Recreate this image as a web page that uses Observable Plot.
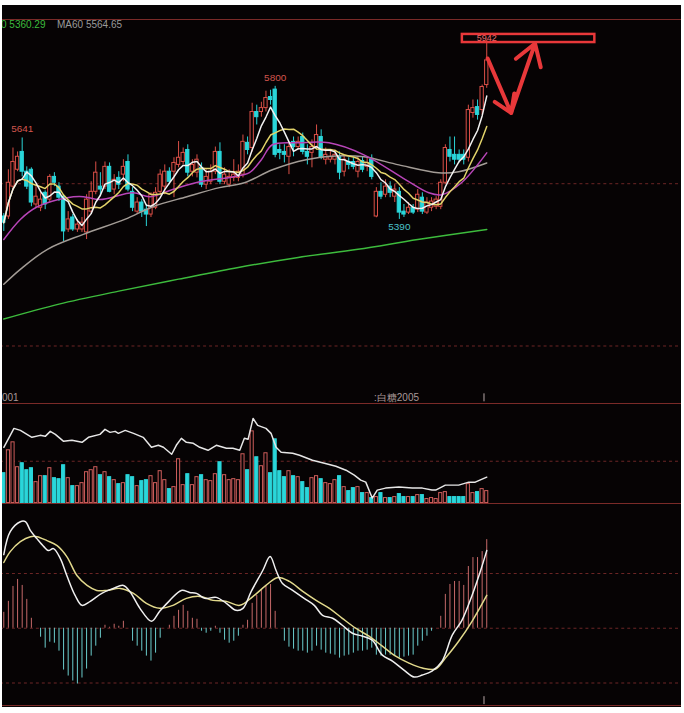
<!DOCTYPE html>
<html><head><meta charset="utf-8">
<script src="https://cdn.jsdelivr.net/npm/d3@7"></script>
<script src="https://cdn.jsdelivr.net/npm/@observablehq/plot@0.6"></script>
<style>
html,body{margin:0;padding:0;background:#ffffff;}
#wrap{position:relative;width:684px;height:713px;overflow:hidden;background:#ffffff;}
#bg{position:absolute;left:2px;top:5px;width:679px;height:702px;background:#060304;overflow:hidden;}
.panel{position:absolute;left:-2px;line-height:0;}
.sep{position:absolute;left:0;width:679px;height:1px;background:#7a2a28;}
.txt{position:absolute;font-family:"Liberation Sans",Arial,sans-serif;font-size:10px;line-height:12px;white-space:nowrap;}
svg{display:block;}
</style></head><body>
<div id="wrap"><div id="bg">
  <span class="txt" style="left:-1px;top:14px;color:#3cbc3c">0 5360.29</span>
  <span class="txt" style="left:55px;top:14px;color:#9a9a9a">MA60 5564.65</span>
  <span class="txt" style="left:0px;top:387px;color:#a89898">001</span>
  <span class="txt" style="left:372px;top:387px;color:#a89898">:白糖2005</span>
</div></div>
<script>
// ---- candles (daily OHLC, sugar 2005) ----
const open = [5399,5399,5491,5543,5598,5537,5543,5436,5426,5472, 5451,5521,5491,5460,5359,5396,5359,5359,5350,5414,
  5475,5491,5491,5552,5482,5518,5528,5567,5475,5414, 5442,5420,5405,5426,5475,5491,5537,5537,5558,5567,
  5604,5537,5534,5549,5497,5506,5537,5598,5506,5497, 5518,5518,5528,5626,5610,5721,5721,5733,5767,5790,
  5604,5598,5583,5629,5613,5644,5598,5595,5613,5644, 5574,5574,5574,5583,5537,5567,5567,5537,5570,5552,
  5574,5399,5475,5466,5491,5460,5475,5414,5411,5426, 5420,5457,5411,5426,5429,5429,5503,5604,5589,5589,
  5589,5580,5718,5736,5727,5804];
const high = [5408,5543,5610,5598,5641,5552,5549,5491,5475,5478, 5528,5534,5503,5466,5414,5405,5390,5396,5466,5506,
  5567,5534,5567,5564,5528,5537,5574,5589,5488,5457, 5451,5436,5472,5488,5543,5558,5549,5580,5630,5610,
  5620,5574,5589,5564,5543,5558,5613,5626,5549,5543, 5574,5558,5650,5644,5748,5742,5751,5785,5788,5800,
  5620,5620,5629,5644,5644,5656,5620,5635,5681,5666, 5610,5604,5604,5598,5589,5580,5580,5583,5583,5580,
  5589,5488,5503,5512,5506,5497,5488,5436,5442,5436, 5482,5472,5457,5457,5460,5512,5620,5644,5644,5604,
  5604,5742,5758,5758,5804,5942];
const low = [5353,5390,5482,5537,5521,5482,5429,5426,5414,5420, 5442,5491,5445,5322,5350,5353,5350,5350,5328,5405,
  5466,5460,5482,5472,5466,5482,5506,5475,5414,5405, 5396,5368,5396,5420,5466,5466,5497,5457,5549,5558,
  5521,5521,5518,5488,5482,5497,5528,5497,5497,5488, 5506,5506,5518,5589,5598,5681,5705,5721,5742,5580,
  5574,5564,5528,5583,5604,5589,5558,5549,5604,5574, 5558,5564,5558,5512,5521,5543,5543,5518,5534,5537,
  5512,5395,5451,5457,5457,5442,5390,5396,5405,5405, 5411,5405,5405,5414,5420,5420,5497,5567,5558,5564,
  5558,5567,5702,5696,5712,5794];
const close = [5380,5503,5567,5583,5537,5491,5442,5460,5451,5436, 5521,5503,5457,5353,5390,5359,5374,5380,5451,5475,
  5534,5482,5552,5475,5512,5497,5552,5482,5426,5442, 5414,5405,5466,5472,5528,5537,5506,5564,5580,5595,
  5534,5558,5574,5497,5521,5537,5598,5506,5528,5521, 5528,5537,5629,5604,5721,5705,5733,5764,5758,5589,
  5595,5589,5613,5613,5629,5598,5583,5613,5650,5580, 5589,5583,5589,5534,5574,5558,5552,5567,5543,5564,
  5521,5475,5460,5491,5472,5482,5411,5405,5426,5411, 5466,5414,5442,5445,5451,5503,5610,5583,5574,5574,
  5574,5727,5733,5712,5798,5880];
// ---- volume ----
const vol = [30,53,61,36,40,33,35,21,27,27, 35,25,24,38,25,17,17,20,31,33, 36,28,31,26,23,19,20,28,26,17,
  22,23,27,20,32,23,14,16,44,18, 29,18,26,28,23,22,29,41,28,23, 24,23,49,33,72,46,37,50,30,64,
  32,26,32,27,26,21,15,25,27,24, 20,19,23,27,16,12,15,16,10,10, 5,6,10,5,5,6,9,6,6,6,
  8,8,4,5,4,10,11,6,6,6, 6,19,10,11,14,12];
const volLineIdx = [0,2.2,3.6,6.1,7.9,9,10.1,11.2,13,14.8,17,18.4,20.9,22,23.1,24.2,24.9,26.4,28.2,30.3,32.1,33.6,34.7,36.5,37.5,38.6,39.7,41.2,42.6,44.4,46.2,48.4,49.8,51.3,52.3,53.1,54.2,55.2,57,58.1,59.2,60.3,62.8,64.3,67.1,69.7,72.2,74.4,76.2,77.6,78.7,80.1,81.2,83,85.9,88.8,91,93.1,93.9,96,98.9,101.1,102.5,105];
const volLineVal = [56,75,73,66,68,67,72,69,62,63,61,66,69,74,71,72,70,73,70,66,56,58,56,49,58,65,61,60,56,53,58,55,55,53,65,64,85,78,75,70,56,51,50,48,43,40,37,33,28,23,21,5,13,15,16,15,15,13,13,18,18,21,21,26];
// ---- moving averages ----
const ma20Idx = [0,3.6,7.3,13.8,17.3,20.9,28.1,31.8,36.7,42.6,49.7,53.4,56,58.4,64.2,70.7,78.3,87.4,92.4,95.2,99.5,105];
const ma20Val = [5328,5390,5429,5457,5460,5451,5472,5460,5482,5506,5521,5534,5574,5620,5626,5626,5589,5512,5472,5466,5503,5595];
const ma60Idx = [0,3.6,9.5,17.3,26.3,32.4,39.8,46.9,52.3,58.4,65.7,72.9,78.3,85.9,94.5,98.9,105];
const ma60Val = [5190,5236,5298,5344,5390,5429,5460,5488,5503,5543,5574,5586,5583,5558,5534,5537,5564];
const ma120Idx = [0,12,25,38,51,64,77,90,105];
const ma120Val = [5083,5129,5169,5206,5242,5273,5298,5328,5359];
// ---- MACD ----
const macdHist = [16,27,42,49,43,29,10,0,-9,-20, -14,-15,-23,-42,-48,-53,-56,-50,-41,-28, -18,-10,3,1,4,2,7,0,-13,-18,
  -23,-28,-33,-25,-10,0,3,12,18,23, 17,10,9,-3,-5,-3,2,-5,-12,-15, -13,-8,3,8,25,33,38,42,44,17,
  0,-13,-19,-21,-23,-23,-25,-23,-18,-22, -25,-26,-27,-30,-28,-27,-25,-23,-23,-22, -20,-27,-28,-27,-27,-28,-30,-29,-28,-27,
  -18,-13,-8,-3,0,12,34,44,47,47, 43,62,71,71,77,89];
const difIdx = [0,1.4,3.6,4.7,5.8,7.2,8.7,9.7,10.8,12.3,13.7,15.5,17,18.8,21.3,23.8,26,27.4,29.6,32.1,33.9,36.1,38.6,40.4,41.9,43.7,46.2,48.4,50.5,52,53.8,56.3,57.9,59.2,60.6,62.8,65.3,67.5,69.3,71.5,73.6,75.8,78,80.1,82.3,84.5,87,89.2,91,93.1,95.3,97.5,99.6,101.8,103.6,105];
const difVal = [74,97,107,107,98,90,82,78,80,70,53,33,23,27,35,40,43,37,20,7,17,28,38,36,35,30,31,25,18,20,37,58,72,58,45,38,30,23,13,10,3,-5,-8,-12,-27,-33,-42,-49,-47,-43,-33,-7,8,33,57,78];
const deaIdx = [0,1.4,3.6,5.8,7.2,9.4,11.6,13.7,15.9,18.1,20.2,22.4,25.3,28.2,31,33.9,36.8,39.7,42.6,45.5,48.4,51.3,54.2,57,59.6,62.1,65,67.9,70.8,73.6,76.5,79.4,82.3,85.2,88.1,91,93.9,96,98.9,101.8,105];
const deaVal = [66,77,87,92,92,88,83,72,53,43,38,38,40,35,25,20,23,30,32,28,27,23,32,43,51,47,37,28,20,10,0,-8,-18,-28,-35,-40,-41,-30,-13,7,33];
// ---- grid levels, labels, annotation ----
const priceGrid = [5500, 5000];
const volGrid = [42];
const macdGrid = [55, 0, -55];
const hiLabelIdx = [4, 59];
const topLabelIdx = [105];
const loLabelIdx = [86];
const timeTickIdx = [104.4];
const boxIdx = [99.7, 128.5];
const boxPrice = [5935, 5960];
const arrowIdx = [105.2, 110.3, 115.5];
const arrowPrice = [5886, 5718, 5932];

// ---- build ----
const bars = close.map((c, i) => ({i, o: open[i], h: high[i], l: low[i], c, v: vol[i], m: macdHist[i], up: c >= open[i]}));
const pts = (xs, ys) => xs.map((x, k) => ({x, y: ys[k]}));
const X = {domain: [-0.714, 147.34], axis: null};
const BG = "#060304", UP = "#dc5048", DN = "#2ad6da", VUP = "#cf5e5c", GRID = "#6e2626", RED = "#e8383a";
const font = {fontFamily: "'Liberation Sans', Arial, sans-serif", fontSize: 10};
const st = {background: "transparent", overflow: "visible"};

const main = Plot.plot({
  width: 684, height: 384, margin: 0, x: X, y: {domain: [4828, 6006], axis: null}, style: st,
  marks: [
    Plot.ruleY(priceGrid, {stroke: GRID, strokeDasharray: "3,3"}),
    Plot.ruleX(bars, {x: "i", y1: "l", y2: "h", stroke: d => d.up ? UP : DN}),
    Plot.rect(bars, {x1: d => d.i - 0.36, x2: d => d.i + 0.36, y1: d => Math.min(d.o, d.c), y2: d => Math.max(d.o, d.c),
      fill: d => d.up ? BG : DN, stroke: d => d.up ? UP : DN, strokeWidth: 1}),
    Plot.line(pts(ma120Idx, ma120Val), {x: "x", y: "y", stroke: "#3dbb3d", curve: "catmull-rom"}),
    Plot.line(pts(ma60Idx, ma60Val), {x: "x", y: "y", stroke: "#a39c96", curve: "catmull-rom"}),
    Plot.line(pts(ma20Idx, ma20Val), {x: "x", y: "y", stroke: "#b845b8", curve: "catmull-rom"}),
    Plot.lineY(bars, Plot.windowY({k: 10, anchor: "end"}, {x: "i", y: "c", stroke: "#e2d36a"})),
    Plot.lineY(bars, Plot.windowY({k: 5, anchor: "end"}, {x: "i", y: "c", stroke: "#f2f2f2"})),
    Plot.text(hiLabelIdx, {x: d => d, y: d => high[d], text: d => String(high[d]), dy: -9, fill: "#d4564e", ...font}),
    Plot.text(loLabelIdx, {x: d => d, y: d => low[d], text: d => String(low[d]), dy: 7, fill: "#4cc4cc", ...font}),
    Plot.text(topLabelIdx, {x: d => d, y: d => high[d], text: d => String(high[d]), dy: -2, fill: "#f07070", ...font, fontSize: 9}),
    Plot.rect([0], {x1: () => boxIdx[0], x2: () => boxIdx[1], y1: () => boxPrice[0], y2: () => boxPrice[1],
      fill: "none", stroke: RED, strokeWidth: 2.5}),
    Plot.arrow(d3.pairs(arrowIdx.map((x, k) => ({x, y: arrowPrice[k]}))), {
      x1: d => d[0].x, y1: d => d[0].y, x2: d => d[1].x, y2: d => d[1].y,
      stroke: RED, strokeWidth: 4, headLength: 12, headAngle: 65}),
    Plot.ruleX(timeTickIdx, {x: d => d, stroke: "#b8a8a8", insetTop: 376})
  ]
});

const volume = Plot.plot({
  width: 684, height: 100, margin: 0, x: X, y: {domain: [0, 100], axis: null}, style: st,
  marks: [
    Plot.ruleY(volGrid, {stroke: GRID, strokeDasharray: "3,3"}),
    Plot.rect(bars, {x1: d => d.i - 0.34, x2: d => d.i + 0.34, y1: () => 0, y2: "v",
      fill: d => d.up ? BG : DN, stroke: d => d.up ? VUP : DN}),
    Plot.line(pts(volLineIdx, volLineVal), {x: "x", y: "y", stroke: "#e6e6e6"})
  ]
});

const macd = Plot.plot({
  width: 684, height: 202, margin: 0, x: X, y: {domain: [-76.7, 125.3], axis: null}, style: st,
  marks: [
    Plot.ruleY(macdGrid, {stroke: GRID, strokeDasharray: "3,3"}),
    Plot.ruleX(bars, {x: "i", y1: () => 0, y2: "m", stroke: d => d.m >= 0 ? "#c86a6a" : "#6ccfcf"}),
    Plot.line(pts(deaIdx, deaVal), {x: "x", y: "y", stroke: "#e2d98c", curve: "catmull-rom"}),
    Plot.line(pts(difIdx, difVal), {x: "x", y: "y", stroke: "#f0f0f0", curve: "catmull-rom"}),
    Plot.ruleX(timeTickIdx, {x: d => d, stroke: "#b8a8a8", insetTop: 194})
  ]
});

const bg = document.getElementById("bg");
function place(el, pageTop) {
  const d = document.createElement("div");
  d.className = "panel";
  d.style.top = (pageTop - 5) + "px";
  d.appendChild(el);
  bg.appendChild(d);
}
place(main, 19);
place(volume, 403);
place(macd, 503);
for (const y of [19, 403, 503, 705]) {
  const s = document.createElement("div");
  s.className = "sep";
  s.style.top = (y - 5) + "px";
  bg.appendChild(s);
}
</script></body></html>
